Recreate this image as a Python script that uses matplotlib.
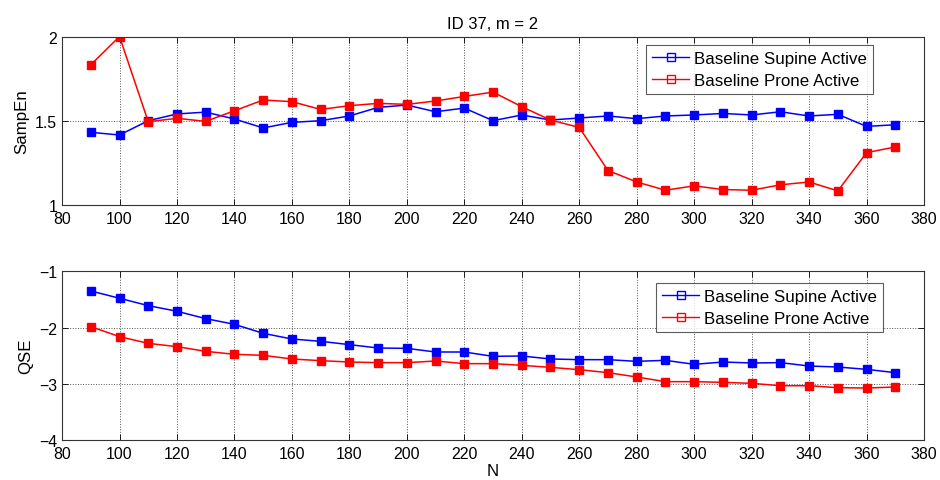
import matplotlib
matplotlib.use("Agg")
from matplotlib import pyplot as plt
from matplotlib.lines import Line2D

plt.rcParams['font.family'] = ['Liberation Sans', 'DejaVu Sans']
plt.rcParams['font.size'] = 11.4

n = list(range(90, 371, 10))

sampen_supine = [1.431, 1.415, 1.500, 1.540, 1.551, 1.510, 1.457, 1.490, 1.500, 1.528,
                 1.579, 1.593, 1.553, 1.575, 1.500, 1.534, 1.504, 1.516, 1.528, 1.512,
                 1.528, 1.534, 1.543, 1.534, 1.553, 1.528, 1.538, 1.466, 1.476]
sampen_prone = [1.832, 2.000, 1.494, 1.514, 1.496, 1.559, 1.623, 1.613, 1.567, 1.589,
                1.603, 1.597, 1.617, 1.644, 1.670, 1.583, 1.504, 1.460, 1.204, 1.136,
                1.087, 1.113, 1.091, 1.087, 1.119, 1.136, 1.083, 1.310, 1.344]

qse_supine = [-1.350, -1.480, -1.611, -1.711, -1.842, -1.943, -2.103, -2.204, -2.245, -2.304,
              -2.364, -2.370, -2.435, -2.435, -2.512, -2.506, -2.559, -2.571, -2.571, -2.601,
              -2.583, -2.654, -2.613, -2.630, -2.624, -2.684, -2.702, -2.743, -2.802]
qse_prone = [-1.984, -2.162, -2.281, -2.340, -2.423, -2.476, -2.494, -2.559, -2.589, -2.613,
             -2.624, -2.624, -2.595, -2.642, -2.642, -2.672, -2.708, -2.749, -2.802, -2.879,
             -2.962, -2.962, -2.974, -2.992, -3.034, -3.034, -3.069, -3.075, -3.057]

labels = ['Baseline Supine Active', 'Baseline Prone Active']
colors = ['#0000ff', '#ff0000']

fig = plt.figure(figsize=(9.4, 4.81), dpi=100)
ax1 = fig.add_axes([0.066, 0.572, 0.917, 0.350])
ax2 = fig.add_axes([0.066, 0.083, 0.917, 0.351])


def style(ax, yticks, ylim):
    ax.set_xlim(80, 380)
    ax.set_xticks(range(80, 381, 20))
    ax.set_ylim(*ylim)
    ax.set_yticks(yticks)
    ax.grid(True, linestyle=':', color='#555555', linewidth=0.7)
    ax.tick_params(direction='in', top=True, right=True, length=4, width=0.6)
    ax.tick_params(axis='x', pad=4.5)
    for s in ax.spines.values():
        s.set_linewidth(0.8)
        s.set_color('#333333')


def draw(ax, ys):
    for y, c in zip(ys, colors):
        ax.plot(n, y, color=c, marker='s', markersize=5.5, markerfacecolor=c,
                markeredgecolor=c, linewidth=1.1)
    handles = [Line2D([], [], color=c, marker='s', markersize=5.5,
                      markerfacecolor='none', markeredgecolor=c, linewidth=1.0)
               for c in colors]
    return handles


def legend(ax, h, anchor):
    leg = ax.legend(h, labels, loc='upper left', bbox_to_anchor=anchor,
                    borderaxespad=0, fancybox=False, edgecolor='#333333',
                    fontsize=12.2, handlelength=2.2, handletextpad=0.3,
                    borderpad=0.35, labelspacing=0.4)
    leg.get_frame().set_linewidth(0.8)


h = draw(ax1, [sampen_supine, sampen_prone])
style(ax1, [1, 1.5, 2], (1, 2))
ax1.set_yticklabels(['1', '1.5', '2'])
ax1.set_ylabel('SampEn', fontsize=12.2)
ax1.set_title('ID 37, m = 2', fontsize=12)
legend(ax1, h, (0.6775, 0.948))

h = draw(ax2, [qse_supine, qse_prone])
style(ax2, [-4, -3, -2, -1], (-4, -1))
ax2.set_ylabel('QSE', fontsize=12.2)
ax2.set_xlabel('N', fontsize=12.2, labelpad=1)
legend(ax2, h, (0.689, 0.931))

fig.savefig('out.png', dpi=100)
